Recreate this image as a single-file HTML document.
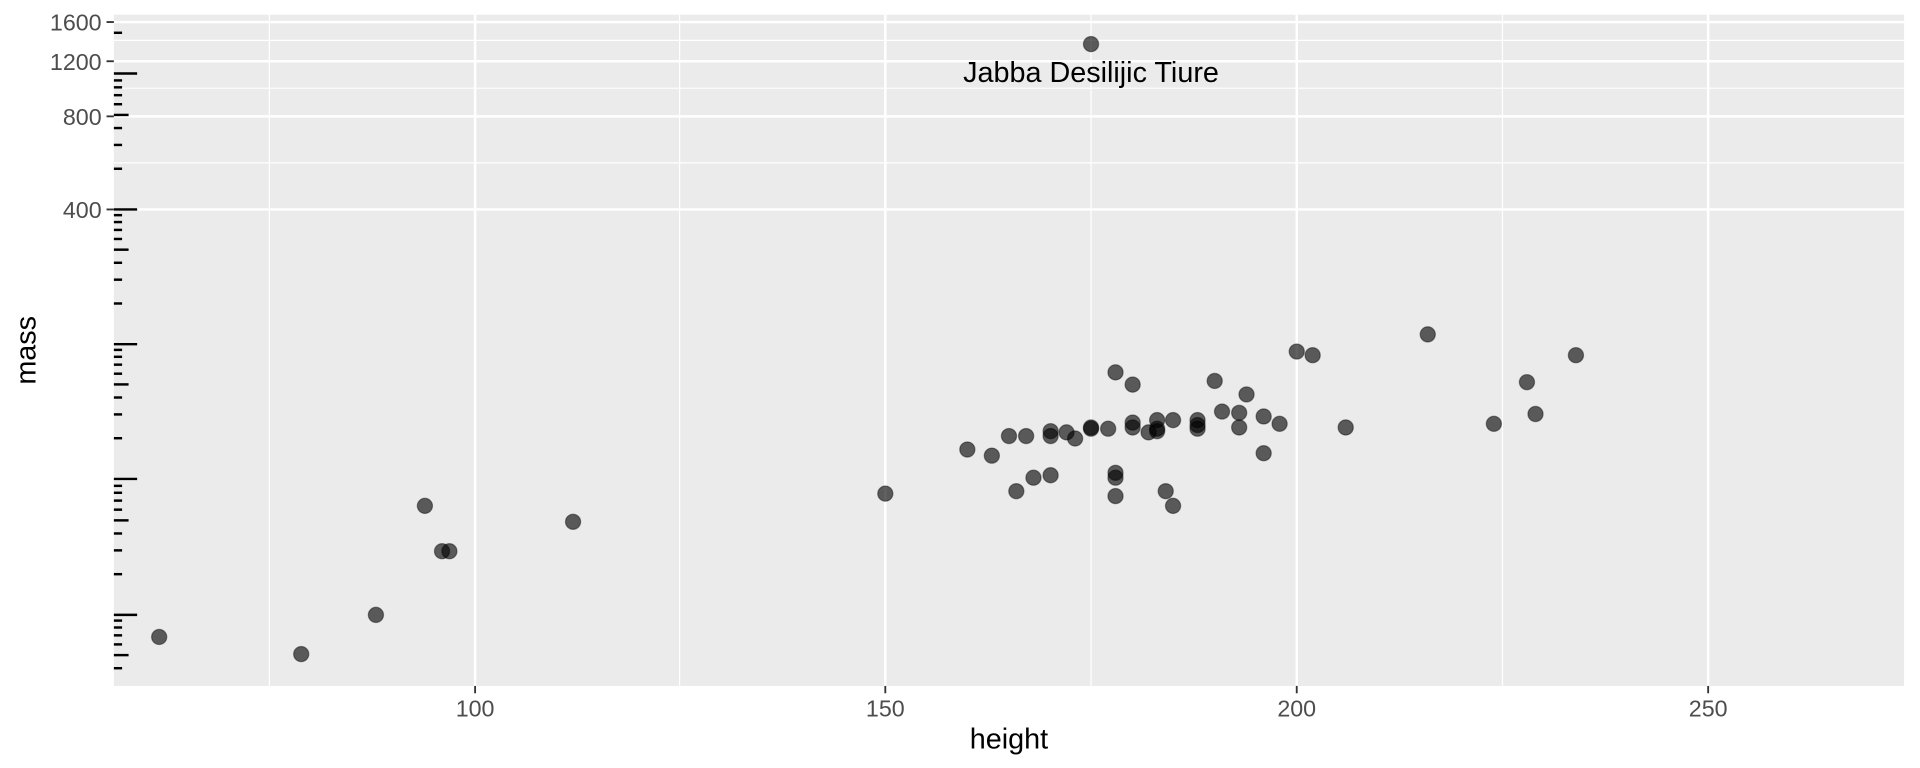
<!DOCTYPE html>
<html><head><meta charset="utf-8"><style>html,body{margin:0;padding:0;background:#fff}svg{display:block}</style></head>
<body>
<svg width="1920" height="768" viewBox="0 0 1568 627" preserveAspectRatio="none" xmlns="http://www.w3.org/2000/svg" font-family="Liberation Sans, sans-serif">
<rect x="93" y="12" width="1462" height="548" fill="#ebebeb"/>
<g stroke="#fff" stroke-width="1">
<line x1="93" x2="1555" y1="33" y2="33"/><line x1="93" x2="1555" y1="72" y2="72"/><line x1="93" x2="1555" y1="133" y2="133"/>
<line x1="220" x2="220" y1="12" y2="560"/><line x1="555" x2="555" y1="12" y2="560"/><line x1="891" x2="891" y1="12" y2="560"/><line x1="1227" x2="1227" y1="12" y2="560"/>
</g>
<g stroke="#fff" stroke-width="2">
<line x1="93" x2="1555" y1="18" y2="18"/><line x1="93" x2="1555" y1="50" y2="50"/><line x1="93" x2="1555" y1="95" y2="95"/><line x1="93" x2="1555" y1="171" y2="171"/>
<line x1="388" x2="388" y1="12" y2="560"/><line x1="723" x2="723" y1="12" y2="560"/><line x1="1059" x2="1059" y1="12" y2="560"/><line x1="1395" x2="1395" y1="12" y2="560"/>
</g>
<g stroke="#000" stroke-width="2">
<line x1="93" x2="112" y1="60" y2="60"/><line x1="93" x2="112" y1="171" y2="171"/><line x1="93" x2="112" y1="281" y2="281"/><line x1="93" x2="112" y1="391" y2="391"/><line x1="93" x2="112" y1="502" y2="502"/>
</g>
<g stroke="#000" stroke-width="2" id="st"></g>
<g stroke="#333" stroke-width="1.5">
<line x1="87" x2="93" y1="18" y2="18"/><line x1="87" x2="93" y1="50" y2="50"/><line x1="87" x2="93" y1="95" y2="95"/><line x1="87" x2="93" y1="171" y2="171"/>
<line x1="388" x2="388" y1="560" y2="566"/><line x1="723" x2="723" y1="560" y2="566"/><line x1="1059" x2="1059" y1="560" y2="566"/><line x1="1395" x2="1395" y1="560" y2="566"/>
</g>
<g fill="#4d4d4d" font-size="19" text-anchor="end">
<text x="83" y="25">1600</text><text x="83" y="57">1200</text><text x="83" y="102">800</text><text x="83" y="178">400</text>
</g>
<g fill="#4d4d4d" font-size="19" text-anchor="middle">
<text x="388" y="585">100</text><text x="723" y="585">150</text><text x="1059" y="585">200</text><text x="1395" y="585">250</text>
</g>
<text x="824" y="611" font-size="23.5" text-anchor="middle">height</text>
<text transform="translate(29,286) rotate(-90)" font-size="23.5" text-anchor="middle">mass</text>
<text x="891" y="67" font-size="23.5" text-anchor="middle">Jabba Desilijic Tiure</text>
<g id="pts" fill="#000" fill-opacity="0.62" stroke="#000" stroke-opacity="0.4" stroke-width="1"></g>
<script>
var st=document.getElementById('st'),ns='http://www.w3.org/2000/svg';
[60,171,281,391,502,612].forEach(function(M){for(var m=2;m<=9;m++){var y=M-110.4*Math.log10(m);if(y<12||y>557)continue;var L=(m==5)?12:6.7;var l=document.createElementNS(ns,'line');l.setAttribute('x1',93);l.setAttribute('x2',93+L);l.setAttribute('y1',y);l.setAttribute('y2',y);st.appendChild(l);}});
var P=[[130,520],[246,534],[307,502],[347,413],[361,450],[367,450],[468,426],[723,403],[790,367],[810,372],[824,356],[838,356],[830,401],[844,390],[858,388],[858,352],[858,356],[871,353],[878,358],[891,349],[891,350],[905,350],[911,304],[911,386],[911,390],[911,405],[925,314],[925,345],[925,349],[938,353],[945,343],[945,350],[945,352],[952,401],[958,413],[958,343],[978,343],[978,350],[978,347],[992,311],[998,336],[1012,337],[1012,349],[1018,322],[1032,340],[1032,370],[1045,346],[1059,287],[1072,290],[1099,349],[1166,273],[1220,346],[1247,312],[1254,338],[1287,290],[891,36]];
var g=document.getElementById('pts');P.forEach(function(p){var c=document.createElementNS(ns,'circle');c.setAttribute('cx',p[0]);c.setAttribute('cy',p[1]);c.setAttribute('r',6.2);g.appendChild(c);});
</script>
</svg>
</body></html>
